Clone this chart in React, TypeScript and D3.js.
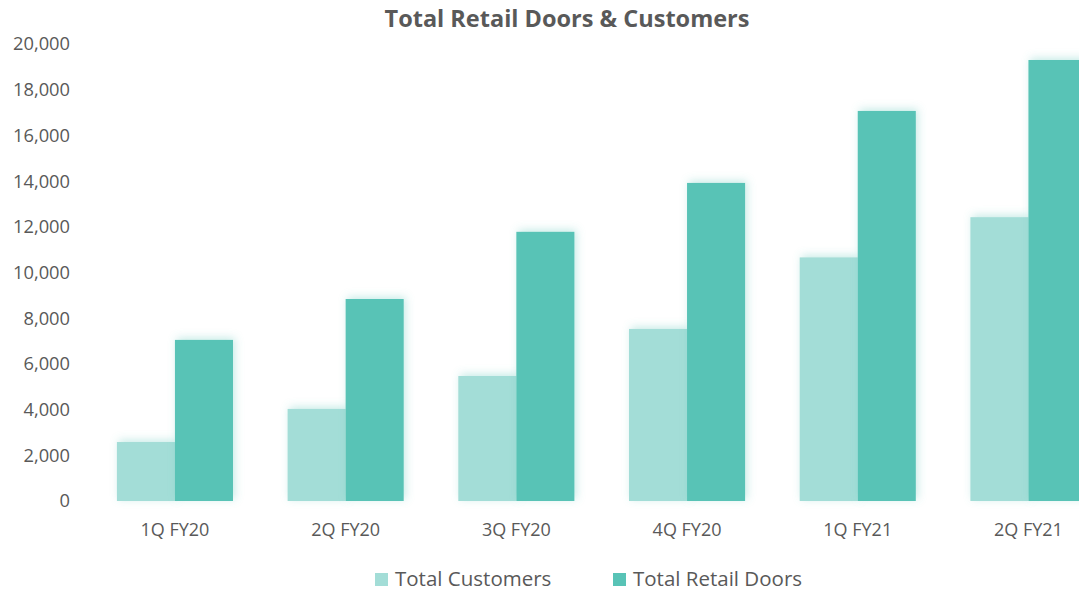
import React, { useEffect, useRef } from 'react';
import * as d3 from 'd3';

const quarters = ['1Q FY20', '2Q FY20', '3Q FY20', '4Q FY20', '1Q FY21', '2Q FY21'];
const totalCustomers = [2580, 4030, 5470, 7530, 10660, 12420];
const totalRetailDoors = [7050, 8840, 11780, 13920, 17070, 19300];
const seriesNames = ['Total Customers', 'Total Retail Doors'];
const seriesColors = ['#a3ddd7', '#58c3b6'];
const yTicks = [0, 2000, 4000, 6000, 8000, 10000, 12000, 14000, 16000, 18000, 20000];

const App: React.FC = () => {
  const svgRef = useRef<SVGSVGElement>(null);

  useEffect(() => {
    const svg = d3.select(svgRef.current);
    svg.selectAll('*').remove();

    const font = '"Open Sans", Lato, sans-serif';
    const textColor = '#595959';

    // glow filter
    const defs = svg.append('defs');
    const f = defs.append('filter').attr('id', 'glow')
      .attr('x', '-20%').attr('y', '-20%').attr('width', '140%').attr('height', '140%');
    f.append('feDropShadow')
      .attr('dx', 2).attr('dy', -2).attr('stdDeviation', 4)
      .attr('flood-color', '#58c3b6').attr('flood-opacity', 0.35);

    const y = d3.scaleLinear().domain([0, 20000]).range([501, 44]);
    const x0 = d3.scaleBand<string>().domain(quarters).range([89.6, 1113.8])
      .paddingInner(0.32).paddingOuter(0.16);
    const x1 = d3.scaleBand<string>().domain(seriesNames).range([0, x0.bandwidth()]);

    // title
    svg.append('text')
      .attr('x', 567).attr('y', 27)
      .attr('text-anchor', 'middle')
      .attr('fill', textColor)
      .style('font-family', font).style('font-weight', 'bold').style('font-size', '23.5px')
      .text('Total Retail Doors & Customers');

    // y axis labels
    svg.append('g').selectAll('text')
      .data(yTicks).join('text')
      .attr('x', 70).attr('y', d => y(d))
      .attr('dy', '0.35em')
      .attr('text-anchor', 'end')
      .attr('fill', textColor)
      .style('font-family', font).style('font-size', '18.3px')
      .text(d => d3.format(',')(d));

    // bars
    const series = [totalCustomers, totalRetailDoors];
    const groups = svg.append('g').selectAll('g')
      .data(quarters).join('g')
      .attr('transform', d => `translate(${x0(d)},0)`);
    groups.selectAll('rect')
      .data((_, i) => seriesNames.map((s, k) => ({ s, k, v: series[k][i] })))
      .join('rect')
      .attr('x', d => x1(d.s) ?? 0)
      .attr('y', d => y(d.v))
      .attr('width', x1.bandwidth())
      .attr('height', d => y(0) - y(d.v))
      .attr('fill', d => seriesColors[d.k])
      .attr('filter', 'url(#glow)');

    // x axis labels
    svg.append('g').selectAll('text')
      .data(quarters).join('text')
      .attr('x', d => (x0(d) ?? 0) + x0.bandwidth() / 2)
      .attr('y', 536)
      .attr('text-anchor', 'middle')
      .attr('fill', textColor)
      .style('font-family', font).style('font-size', '18px')
      .text(d => d);

    // legend
    const legendX = [375, 613];
    const legend = svg.append('g').selectAll('g')
      .data(seriesNames).join('g')
      .attr('transform', (_, i) => `translate(${legendX[i]},573)`);
    legend.append('rect')
      .attr('width', 13).attr('height', 13)
      .attr('fill', (_, i) => seriesColors[i]);
    legend.append('text')
      .attr('x', 20).attr('y', 13)
      .attr('fill', textColor)
      .style('font-family', font).style('font-size', '20.5px')
      .text(d => d);
  }, []);

  return (
    <svg ref={svgRef} width={1079} height={591}
      style={{ position: 'fixed', left: 0, top: 0, background: '#fff' }} />
  );
};

export default App;
